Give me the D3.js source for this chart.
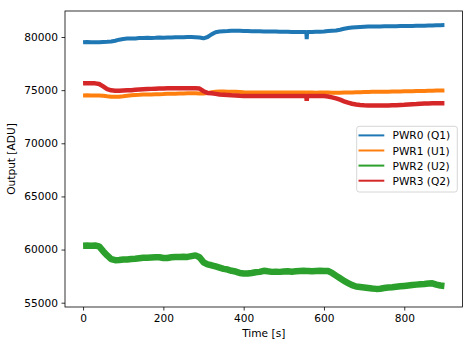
<!DOCTYPE html>
<html><head><meta charset="utf-8">
<script src="https://cdn.jsdelivr.net/npm/d3@7"></script>
<style>body{margin:0;background:#fff}svg{display:block}text{font-family:"DejaVu Sans",sans-serif}</style>
</head><body><svg id="c" width="473" height="347"></svg>
<script>
const times = [0,10,20,30,40,50,60,70,80,90,100,110,120,130,140,150,160,170,180,190,200,210,220,230,240,250,260,270,280,290,300,310,320,330,340,350,360,370,380,390,400,410,420,430,440,450,460,470,480,490,500,510,520,530,540,550,556,557,558,560,570,580,590,600,610,620,630,640,650,660,670,680,690,700,710,720,730,740,750,760,770,780,790,800,810,820,830,840,850,860,870,880,890,900];
const pwr0 = [79500,79520,79500,79510,79500,79530,79550,79580,79650,79750,79820,79850,79870,79870,79900,79900,79920,79900,79920,79950,79930,79950,79960,79980,79970,79980,80000,79990,79980,79950,79880,80000,80250,80450,80520,80550,80560,80580,80590,80580,80570,80560,80550,80540,80540,80530,80520,80520,80510,80500,80500,80490,80480,80480,80470,80470,80470,79800,80470,80470,80480,80490,80500,80520,80560,80590,80620,80690,80780,80850,80900,80930,80950,80970,80990,81000,81000,81000,81010,81010,81020,81020,81030,81030,81040,81040,81050,81060,81070,81080,81090,81100,81110,81120];
const pwr1 = [74500,74510,74500,74500,74490,74470,74420,74380,74370,74380,74420,74470,74520,74550,74560,74580,74580,74600,74610,74620,74630,74650,74660,74670,74680,74690,74700,74700,74700,74690,74680,74720,74800,74850,74870,74870,74860,74850,74840,74820,74800,74790,74790,74780,74790,74780,74780,74790,74780,74780,74780,74770,74780,74770,74770,74770,74770,74650,74770,74770,74770,74760,74770,74770,74770,74760,74760,74760,74770,74780,74790,74800,74810,74820,74830,74840,74850,74850,74860,74860,74870,74880,74880,74890,74900,74900,74910,74920,74930,74940,74950,74960,74960,74970];
const pwr2 = [60370,60380,60370,60380,60300,59850,59450,59100,59000,59020,59070,59060,59110,59130,59180,59220,59240,59260,59280,59270,59200,59210,59280,59310,59300,59320,59310,59380,59450,59280,58800,58600,58520,58420,58300,58180,58120,58000,57930,57800,57750,57740,57800,57870,57900,58000,57950,57900,57920,57900,57930,57950,57920,57960,57980,58000,57990,57980,57980,57980,57960,57990,58000,57990,57980,57800,57550,57300,57050,56850,56650,56520,56480,56430,56380,56330,56300,56320,56380,56430,56460,56500,56540,56580,56620,56660,56700,56740,56760,56800,56820,56700,56620,56580];
const pwr3 = [75650,75660,75650,75640,75580,75350,75100,74980,74950,74940,74960,74980,75000,75030,75060,75080,75100,75120,75140,75150,75160,75170,75170,75180,75180,75190,75190,75180,75180,75150,74900,74740,74700,74650,74600,74570,74540,74510,74490,74470,74460,74460,74450,74450,74450,74440,74450,74440,74450,74440,74440,74440,74450,74440,74440,74440,74440,74000,74440,74440,74440,74440,74440,74440,74400,74320,74220,74100,73950,73820,73720,73650,73610,73580,73560,73550,73550,73550,73550,73560,73570,73580,73600,73620,73650,73680,73700,73720,73740,73750,73760,73760,73770,73770];
const seriesNames = ["PWR0 (Q1)","PWR1 (U1)","PWR2 (U2)","PWR3 (Q2)"];
const seriesColors = ["#1f77b4","#ff7f0e","#2ca02c","#d62728"];
const seriesWidths = [4,4,6.5,4.5];
const xTicks = [0,200,400,600,800];
const yTicks = [55000,60000,65000,70000,75000,80000];
const xTitle = "Time [s]", yTitle = "Output [ADU]";

const series = [pwr0,pwr1,pwr2,pwr3];
const svg = d3.select("#c");
const L=65, R=462.5, T=11, B=307;
const x = d3.scaleLinear().domain([-45,945]).range([L,R]);
const y = d3.scaleLinear().domain([54595,82448]).range([B,T]);

const plot = svg.append("g");
const line = d3.line().x((d,i)=>x(times[i])).y(d=>y(d));
series.forEach((s,k)=>{
  plot.append("path").attr("d",line(s)).attr("fill","none")
    .attr("stroke",seriesColors[k]).attr("stroke-width",seriesWidths[k])
    .attr("stroke-linejoin","bevel").attr("stroke-linecap","butt");
});

const fs = "10.6px";
const gx = svg.append("g").attr("transform",`translate(0,${B})`)
  .call(d3.axisBottom(x).tickValues(xTicks).tickSize(3.5).tickPadding(3.5).tickFormat(d3.format("d")));
const gy = svg.append("g").attr("transform",`translate(${L},0)`)
  .call(d3.axisLeft(y).tickValues(yTicks).tickSize(3.5).tickPadding(3.5).tickFormat(d3.format("d")));
[gx,gy].forEach(g=>{
  g.select(".domain").remove();
  g.selectAll(".tick line").attr("stroke","#000").attr("stroke-width",0.8);
  g.selectAll(".tick text").attr("fill","#000").style("font-size",fs).style("font-family","DejaVu Sans");
});
svg.append("rect").attr("x",L).attr("y",T).attr("width",R-L).attr("height",B-T)
  .attr("fill","none").attr("stroke","#000").attr("stroke-width",0.8);

svg.append("text").attr("x",(L+R)/2).attr("y",337).attr("text-anchor","middle")
  .style("font-size",fs).text(xTitle);
svg.append("text").attr("transform",`translate(15,${(T+B)/2}) rotate(-90)`).attr("text-anchor","middle")
  .style("font-size",fs).text(yTitle);

const lg = svg.append("g");
lg.append("rect").attr("x",356.7).attr("y",126.3).attr("width",100.6).attr("height",65.7)
  .attr("rx",2.5).attr("fill","#fff").attr("fill-opacity",0.8).attr("stroke","#cccccc").attr("stroke-width",0.8);
seriesNames.forEach((n,k)=>{
  const yy = 135.4 + k*15.1;
  lg.append("line").attr("x1",358.5).attr("x2",384.3).attr("y1",yy).attr("y2",yy)
    .attr("stroke",seriesColors[k]).attr("stroke-width",2);
  lg.append("text").attr("x",392.5).attr("y",yy+4).style("font-size",fs).attr("fill","#000").text(n);
});
</script></body></html>
